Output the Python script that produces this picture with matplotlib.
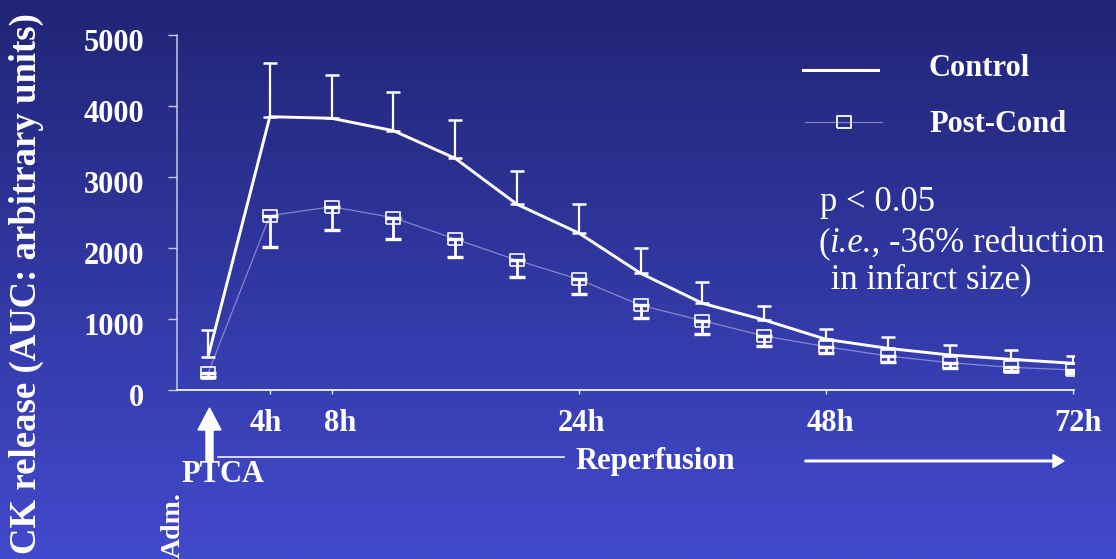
import numpy as np
import matplotlib
matplotlib.use("Agg")
import matplotlib.pyplot as plt
from matplotlib.lines import Line2D
from matplotlib.patches import FancyArrow
from matplotlib.transforms import IdentityTransform, ScaledTranslation
from matplotlib.font_manager import FontProperties

# ---------------- data ----------------
time_labels = ["Adm.", "4h", "8h", "12h", "16h", "20h", "24h", "30h", "36h",
               "42h", "48h", "54h", "60h", "66h", "72h"]
control_mean = [465, 3849, 3827, 3652, 3263, 2615, 2211, 1644, 1221, 986,
                714, 587, 493, 432, 376]
control_err = [380, 761, 605, 541, 536, 465, 409, 352, 296, 201,
               141, 155, 137, 127, 98]
postcond_mean = [235, 2455, 2582, 2427, 2127, 1827, 1559, 1193, 976, 761,
                 610, 479, 385, 319, 282]
postcond_err = [55, 441, 333, 304, 258, 240, 211, 183, 191, 137,
                93, 89, 70, 47, 47]
shown_ticks = ["4h", "8h", "24h", "48h", "72h"]
y_ticks = [0, 1000, 2000, 3000, 4000, 5000]

W, H = 1116, 559
plt.rcParams['font.family'] = ['Liberation Serif', 'DejaVu Serif']

fig = plt.figure(figsize=(W / 100, H / 100), dpi=100)

# background gradient
bg = fig.add_axes([0, 0, 1, 1], zorder=0)
top = np.array([33, 37, 118]) / 255
bot = np.array([66, 74, 205]) / 255
t = np.linspace(0, 1, 256)[:, None, None]
grad = top[None, None, :] * (1 - t) + bot[None, None, :] * t
bg.imshow(grad, extent=[0, 1, 0, 1], aspect='auto', origin='upper')
bg.axis('off')

def fx(x):
    return x / W

def fy(y):
    return 1 - y / H

ax = fig.add_axes([fx(177), fy(390), (1074 - 177) / W, (390 - 35) / H], zorder=1)
ax.patch.set_alpha(0)

x = np.arange(len(time_labels))
ctrl = np.array(control_mean)
pc = np.array(postcond_mean)

white = 'white'
pc_line_color = (0.78, 0.78, 0.95, 0.55)

ax.plot(x, ctrl, color=white, lw=2.1, zorder=3, solid_joinstyle='miter')
ax.errorbar(x, ctrl, yerr=[np.zeros_like(ctrl), np.array(control_err)], fmt='none',
            ecolor=white, elinewidth=1.6, capsize=5, capthick=1.8, zorder=3)

ax.plot(x, pc, color=pc_line_color, lw=0.9, zorder=2)
ax.errorbar(x, pc, yerr=[np.array(postcond_err), np.zeros_like(pc)], fmt='none',
            ecolor=white, elinewidth=2.0, capsize=5.5, capthick=2.4, zorder=3)
rect = [(-1.2, -1), (1.2, -1), (1.2, 1), (-1.2, 1), (-1.2, -1)]
ax.plot(x, pc, linestyle='none', marker=rect, markersize=10, markerfacecolor='none',
        markeredgecolor=(1, 1, 1, 0.9), markeredgewidth=1.3, zorder=4)

ax.set_xlim(-0.502, 14.013)
ax.set_ylim(0, 5000)

for s in ['top', 'right']:
    ax.spines[s].set_visible(False)
ax.spines['left'].set_color('#c8c8e6')
ax.spines['left'].set_linewidth(1.1)
ax.spines['bottom'].set_color('#e6e6f4')
ax.spines['bottom'].set_linewidth(1.4)

ax.set_yticks(y_ticks)
ax.set_yticklabels([str(v) for v in y_ticks])
ax.tick_params(axis='y', direction='out', length=6.5, width=1.0, color='#c8c8e6',
               labelcolor=white, labelsize=22, pad=17)
for lab in ax.get_yticklabels():
    lab.set_fontweight('bold')
    lab.set_transform(lab.get_transform() + ScaledTranslation(0, -0.05, fig.dpi_scale_trans))

tick_pos = [time_labels.index(s) for s in shown_ticks]
ax.set_xticks(tick_pos)
ax.set_xticklabels(shown_ticks)
ax.tick_params(axis='x', direction='out', length=3, width=1.0, color='#e6e6f4',
               labelcolor=white, labelsize=22, pad=11)
x_off = [-4, 9, 3, 4, 5]
for lab, dx in zip(ax.get_xticklabels(), x_off):
    lab.set_fontweight('bold')
    lab.set_transform(lab.get_transform() + ScaledTranslation(dx / 100, 0, fig.dpi_scale_trans))

# y label
fig.text(fx(26), fy(284), "CK release (AUC: arbitrary units)", rotation=90,
         ha='center', va='center', color=white, fontsize=26.5, fontweight='bold')

# legend (manual)
fig.add_artist(Line2D([fx(803), fx(878)], [fy(70), fy(70)], color=white, lw=2.2,
                      transform=fig.transFigure))
fig.add_artist(Line2D([fx(805), fx(882)], [fy(122), fy(122)], color=pc_line_color, lw=0.9,
                      transform=fig.transFigure))
fig.add_artist(Line2D([fx(844)], [fy(122)], linestyle='none', marker=rect, markersize=10,
                      markerfacecolor='none', markeredgecolor=white, markeredgewidth=1.3,
                      transform=fig.transFigure))
fig.text(fx(929), fy(68), "Control", ha='left', va='center', color=white,
         fontsize=22, fontweight='bold')
fig.text(fx(929), fy(124), "Post-Cond", ha='left', va='center', color=white,
         fontsize=22, fontweight='bold')

# annotation
ann_fs = 25
fig.text(fx(820), fy(211), "p < 0.05", ha='left', va='baseline', color=white, fontsize=ann_fs)
renderer = fig.canvas.get_renderer()
prop = FontProperties(family='Liberation Serif', size=ann_fs)

def ink_w(s):
    return renderer.get_text_width_height_descent(s, prop, ismath=False)[0]

x0 = 818
off_i = ink_w("(i") - ink_w("i")
off_dash = ink_w("(i.e., -") - ink_w("-")
fig.text(fx(x0), fy(252), "(", ha='left', va='baseline', color=white, fontsize=ann_fs)
fig.text(fx(x0 + off_i), fy(252), "i.e.,", ha='left', va='baseline', color=white,
         fontsize=ann_fs, fontstyle='italic')
fig.text(fx(x0 + off_dash), fy(252), "-36% reduction", ha='left', va='baseline',
         color=white, fontsize=ann_fs)
fig.text(fx(822), fy(288), " in infarct size)", ha='left', va='baseline', color=white,
         fontsize=ann_fs)

# bottom annotations
idt = IdentityTransform()
fig.add_artist(FancyArrow(209.5, H - 462, 0, 54, width=7, head_width=23, head_length=22,
                          length_includes_head=True, color=white, transform=idt))
fig.add_artist(Line2D([218, 564], [H - 457, H - 457], color=white, lw=1.1, transform=idt))
fig.add_artist(FancyArrow(805, H - 461, 259, 0, width=1.6, head_width=13, head_length=11,
                          length_includes_head=True, color=white, transform=idt))
fig.text(fx(223), fy(474), "PTCA", ha='center', va='center', color=white,
         fontsize=22, fontweight='bold')
fig.text(fx(655), fy(461), "Reperfusion", ha='center', va='center', color=white,
         fontsize=22, fontweight='bold')
fig.text(fx(173), fy(492), "Adm.", rotation=90, ha='center', va='top', color=white,
         fontsize=20, fontweight='bold')

fig.savefig("out.png", dpi=100)
